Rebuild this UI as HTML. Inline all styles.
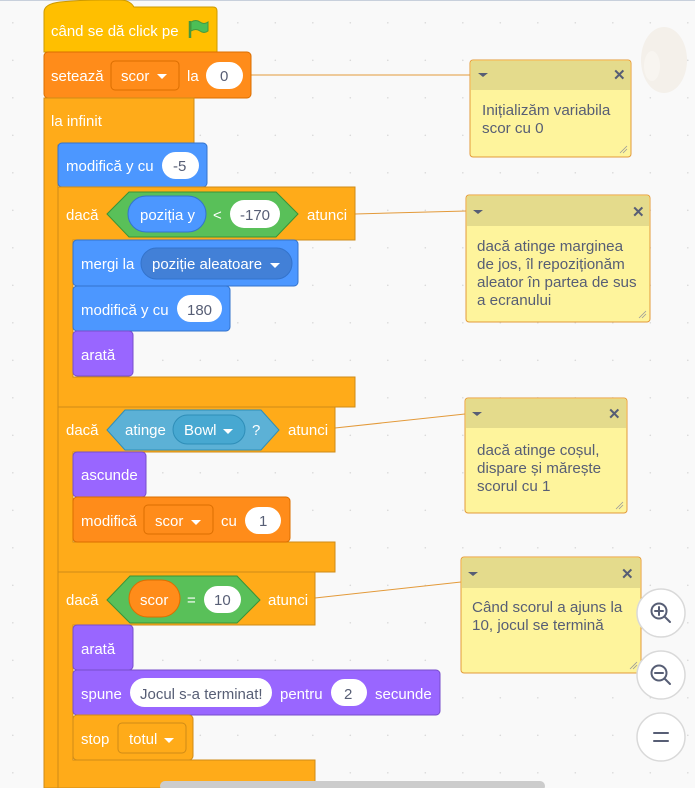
<!DOCTYPE html>
<html><head><meta charset="utf-8"><style>
html,body{margin:0;padding:0;background:#F9F9F9;}
svg{display:block;font-family:"Liberation Sans",sans-serif;}
.w{fill:#fff;font-size:15px;}
.d{fill:#575E75;font-size:15px;}
.c{fill:#575E75;font-size:15.2px;}
</style></head><body>
<svg width="695" height="788" viewBox="0 0 695 788" xmlns="http://www.w3.org/2000/svg">
<defs>
<pattern id="dots" x="12" y="22" width="37.5" height="37.5" patternUnits="userSpaceOnUse">
<circle cx="0.8" cy="0.8" r="0.8" fill="#D9D9D9"/></pattern>
</defs>
<rect width="695" height="788" fill="#F9F9F9"/>
<rect width="695" height="788" fill="url(#dots)"/>
<rect width="695" height="1" fill="#C8D0DC"/>

<ellipse cx="664" cy="60" rx="23" ry="33" fill="#F4F0EA"/>
<ellipse cx="652" cy="66" rx="8" ry="15" fill="#F8F5F0"/>

<g stroke="#E39A3A" stroke-width="1" fill="none">
<line x1="251" y1="75" x2="470" y2="75"/>
<line x1="355" y1="214" x2="466" y2="211"/>
<line x1="335" y1="428" x2="465" y2="414"/>
<line x1="315" y1="598" x2="461" y2="582"/>
</g>

<path d="M44 12 Q44 4 60 2 Q80 0 100 0 L120 0 Q130 0 134 7 L213 7 Q217 7 217 11 L217 52 L44 52 Z" fill="#FFBF00" stroke="#CC9900"/>
<text class="w" x="51" y="36">când se dă click pe</text>
<g transform="translate(188,20)"><path d="M2 1 L2 18" stroke="#45993D" stroke-width="2.5"/><path d="M3 2 Q8 -1 12 2 Q16 5 20 2 L20 11 Q16 14 12 11 Q8 8 3 11 Z" fill="#4CBF56" stroke="#45993D"/></g>

<rect x="44" y="52" width="207" height="46" rx="4" fill="#FF8C1A" stroke="#DB6E00"/>
<text class="w" x="51" y="81">setează</text>
<rect x="111" y="61" width="68" height="29" rx="4" fill="#FF8C1A" stroke="#DB6E00"/>
<text class="w" x="121" y="81">scor</text><path d="M157 74 L167 74 L162 79 Z" fill="#fff"/>
<text class="w" x="187" y="81">la</text>
<rect x="206" y="62" width="37" height="27" rx="13.5" fill="#fff"/>
<text class="d" x="220" y="81">0</text>

<path d="M44 98 L194 98 L194 145 L58 145 L58 788 L44 788 Z" fill="#FFAB19" stroke="#CF8B17"/>
<text class="w" x="51" y="126">la infinit</text>

<rect x="58" y="143" width="149" height="44" rx="4" fill="#4C97FF" stroke="#3373CC"/>
<text class="w" x="66" y="171">modifică y cu</text>
<rect x="162" y="152" width="37" height="27" rx="13.5" fill="#fff"/>
<text class="d" x="173" y="171">-5</text>

<path d="M58 187 L355 187 L355 240 L73 240 L73 377 L355 377 L355 407 L58 407 Z" fill="#FFAB19" stroke="#CF8B17"/>
<text class="w" x="66" y="220">dacă</text>
<path d="M107 214 L129 192 L276 192 L298 214 L276 237 L129 237 Z" fill="#59C059" stroke="#389438"/>
<rect x="128" y="196" width="78" height="36" rx="18" fill="#4C97FF" stroke="#3373CC"/>
<text class="w" x="140" y="220">poziția y</text>
<text class="w" x="213" y="220">&lt;</text>
<rect x="230" y="200" width="50" height="28" rx="14" fill="#fff"/>
<text class="d" x="240" y="220">-170</text>
<text class="w" x="307" y="220">atunci</text>

<rect x="73" y="240" width="225" height="46" rx="4" fill="#4C97FF" stroke="#3373CC"/>
<text class="w" x="81" y="269">mergi la</text>
<rect x="141" y="248" width="151" height="31" rx="15.5" fill="#4280D7" stroke="#3373CC"/>
<text class="w" x="152" y="269">poziție aleatoare</text><path d="M270 263 L280 263 L275 268 Z" fill="#fff"/>

<rect x="73" y="286" width="157" height="45" rx="4" fill="#4C97FF" stroke="#3373CC"/>
<text class="w" x="81" y="315">modifică y cu</text>
<rect x="177" y="295" width="45" height="27" rx="13.5" fill="#fff"/>
<text class="d" x="187" y="315">180</text>

<rect x="73" y="331" width="60" height="45" rx="4" fill="#9966FF" stroke="#774DCB"/>
<text class="w" x="81" y="360">arată</text>

<path d="M58 407 L335 407 L335 452 L73 452 L73 542 L335 542 L335 572 L58 572 Z" fill="#FFAB19" stroke="#CF8B17"/>
<text class="w" x="66" y="435">dacă</text>
<path d="M107 430 L125 410 L261 410 L279 430 L261 450 L125 450 Z" fill="#5CB1D6" stroke="#2E8EB8"/>
<text class="w" x="125" y="435">atinge</text>
<rect x="173" y="415" width="72" height="29" rx="14.5" fill="#47A8D1" stroke="#2E8EB8"/>
<text class="w" x="184" y="435">Bowl</text><path d="M223 429 L233 429 L228 434 Z" fill="#fff"/>
<text class="w" x="252" y="435">?</text>
<text class="w" x="288" y="435">atunci</text>

<rect x="73" y="452" width="73" height="45" rx="4" fill="#9966FF" stroke="#774DCB"/>
<text class="w" x="81" y="480">ascunde</text>

<rect x="73" y="497" width="217" height="45" rx="4" fill="#FF8C1A" stroke="#DB6E00"/>
<text class="w" x="81" y="526">modifică</text>
<rect x="144" y="505" width="69" height="29" rx="4" fill="#FF8C1A" stroke="#DB6E00"/>
<text class="w" x="155" y="526">scor</text><path d="M191 520 L201 520 L196 525 Z" fill="#fff"/>
<text class="w" x="221" y="526">cu</text>
<rect x="245" y="507" width="36" height="27" rx="13.5" fill="#fff"/>
<text class="d" x="259" y="526">1</text>

<path d="M58 572 L315 572 L315 625 L73 625 L73 760 L315 760 L315 788 L58 788 Z" fill="#FFAB19" stroke="#CF8B17"/>
<text class="w" x="66" y="605">dacă</text>
<path d="M107 600 L130 576 L237 576 L260 600 L237 623 L130 623 Z" fill="#59C059" stroke="#389438"/>
<rect x="129" y="580" width="51" height="37" rx="18.5" fill="#FF8C1A" stroke="#DB6E00"/>
<text class="w" x="140" y="605">scor</text>
<text class="w" x="187" y="605">=</text>
<rect x="204" y="586" width="37" height="27" rx="13.5" fill="#fff"/>
<text class="d" x="214" y="605">10</text>
<text class="w" x="268" y="605">atunci</text>

<rect x="73" y="625" width="60" height="45" rx="4" fill="#9966FF" stroke="#774DCB"/>
<text class="w" x="81" y="654">arată</text>

<rect x="73" y="670" width="367" height="45" rx="4" fill="#9966FF" stroke="#774DCB"/>
<text class="w" x="81" y="699">spune</text>
<rect x="130" y="678" width="142" height="29" rx="14.5" fill="#fff"/>
<text class="d" x="140" y="699">Jocul s-a terminat!</text>
<text class="w" x="280" y="699">pentru</text>
<rect x="331" y="679" width="36" height="27" rx="13.5" fill="#fff"/>
<text class="d" x="344" y="699">2</text>
<text class="w" x="375" y="699">secunde</text>

<rect x="73" y="715" width="120" height="45" rx="4" fill="#FFAB19" stroke="#CF8B17"/>
<text class="w" x="81" y="744">stop</text>
<rect x="118" y="723" width="68" height="30" rx="4" fill="#FFAB19" stroke="#CF8B17"/>
<text class="w" x="129" y="744">totul</text><path d="M164 738 L174 738 L169 743 Z" fill="#fff"/>

<rect x="160" y="781" width="385" height="10" rx="5" fill="#CCCCCC"/>

<g>
<rect x="470" y="60" width="161" height="97" rx="3" fill="#FEF49C" stroke="#E39A3A"/>
<path d="M471 61 L630 61 L630 90 L471 90 Z" fill="#E4DB8C"/>
<path d="M478 73 L488 73 L483 77 Z" fill="#575E75"/>
<text x="613" y="80" font-size="15" font-weight="bold" fill="#575E75">✕</text>
<text class="c" x="482" y="115">Inițializăm variabila</text>
<text class="c" x="482" y="133">scor cu 0</text>
<path d="M620 153 L627 146 M623 153 L627 149" stroke="#999" stroke-width="0.8"/>
</g>
<g>
<rect x="466" y="195" width="184" height="127" rx="3" fill="#FEF49C" stroke="#E39A3A"/>
<path d="M467 196 L649 196 L649 226 L467 226 Z" fill="#E4DB8C"/>
<path d="M473 210 L483 210 L478 214 Z" fill="#575E75"/>
<text x="632" y="217" font-size="15" font-weight="bold" fill="#575E75">✕</text>
<text class="c" x="477" y="251">dacă atinge marginea</text>
<text class="c" x="477" y="269">de jos, îl repoziționăm</text>
<text class="c" x="477" y="287">aleator în partea de sus</text>
<text class="c" x="477" y="305">a ecranului</text>
<path d="M639 318 L646 311 M642 318 L646 314" stroke="#999" stroke-width="0.8"/>
</g>
<g>
<rect x="465" y="398" width="162" height="115" rx="3" fill="#FEF49C" stroke="#E39A3A"/>
<path d="M466 399 L626 399 L626 428 L466 428 Z" fill="#E4DB8C"/>
<path d="M472 412 L482 412 L477 416 Z" fill="#575E75"/>
<text x="608" y="419" font-size="15" font-weight="bold" fill="#575E75">✕</text>
<text class="c" x="477" y="455">dacă atinge coșul,</text>
<text class="c" x="477" y="473">dispare și mărește</text>
<text class="c" x="477" y="491">scorul cu 1</text>
<path d="M616 509 L623 502 M619 509 L623 505" stroke="#999" stroke-width="0.8"/>
</g>
<g>
<rect x="461" y="557" width="180" height="116" rx="3" fill="#FEF49C" stroke="#E39A3A"/>
<path d="M462 558 L640 558 L640 588 L462 588 Z" fill="#E4DB8C"/>
<path d="M468 572 L478 572 L473 576 Z" fill="#575E75"/>
<text x="621" y="579" font-size="15" font-weight="bold" fill="#575E75">✕</text>
<text class="c" x="472" y="612">Când scorul a ajuns la</text>
<text class="c" x="472" y="630">10, jocul se termină</text>
<path d="M630 669 L637 662 M633 669 L637 665" stroke="#999" stroke-width="0.8"/>
</g>

<g fill="#fff" stroke="#D9D9D9" stroke-width="1.5">
<circle cx="661" cy="613" r="24"/><circle cx="661" cy="675" r="24"/><circle cx="661" cy="737" r="24"/>
</g>
<g stroke="#575E75" stroke-width="2" fill="none" stroke-linecap="round">
<circle cx="659" cy="611" r="7.5"/><line x1="665" y1="617" x2="670" y2="622"/><line x1="655" y1="611" x2="663" y2="611"/><line x1="659" y1="607" x2="659" y2="615"/>
<circle cx="659" cy="673" r="7.5"/><line x1="665" y1="679" x2="670" y2="684"/><line x1="655" y1="673" x2="663" y2="673"/>
<line x1="654" y1="733" x2="668" y2="733"/><line x1="654" y1="741" x2="668" y2="741"/>
</g>
</svg>
</body></html>
